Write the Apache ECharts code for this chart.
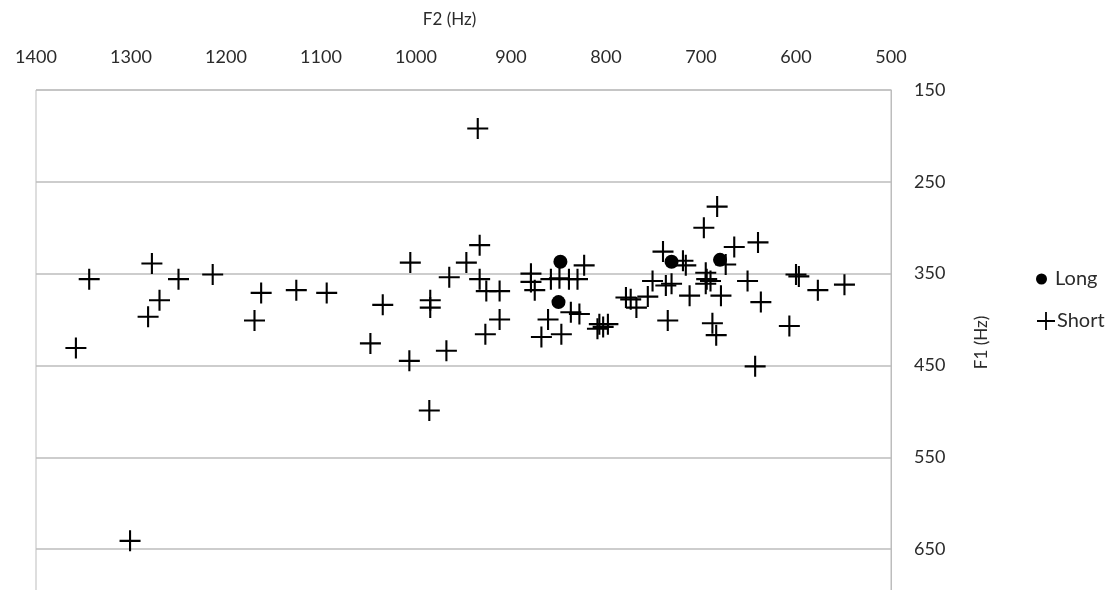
<!DOCTYPE html>
<html>
	<head>
	    <meta charset="utf-8">
	    <title>F1 / F2 scatter</title>
	</head>
	<body style="margin:0;">
	    <div id="main" style="width:1110px; height:590px;"></div>
	    <script src="https://cdn.jsdelivr.net/npm/echarts@6/dist/echarts.min.js"></script>
	    <script type="text/javascript">
	        // Short vowels: F2 (Hz) and F1 (Hz)
	        var shortF2 = [1358, 1344, 1301, 1278, 1270, 1282, 1250, 1214, 1163, 1170, 1126, 1094,
	                       1048, 1035, 1006, 1007, 986, 985, 985, 968, 965, 947, 933, 935, 933, 926,
	                       912, 912, 927,
	                       879, 879, 875, 858, 849, 839, 830, 823, 837, 828, 861, 868, 847,
	                       807, 803, 798, 809,
	                       779, 774, 768, 756, 751, 740, 737, 731, 735, 719, 716, 712, 697, 683,
	                       695, 694, 695, 690, 688, 684, 679, 674, 665, 640, 651, 637, 600, 597,
	                       577, 549, 607, 643];
	        var shortF1 = [431, 356, 641, 339, 379, 397, 356, 351, 371, 401, 368, 371,
	                       426, 384, 338, 445, 499, 379, 387, 434, 354, 338, 319, 192, 356, 369,
	                       369, 400, 416,
	                       350, 359, 368, 356, 355, 356, 356, 341, 392, 394, 400, 419, 416,
	                       405, 408, 405, 410,
	                       376, 378, 387, 375, 358, 326, 363, 361, 401, 336, 341, 374, 300, 277,
	                       349, 356, 361, 358, 404, 417, 374, 340, 321, 316, 358, 381, 351, 353,
	                       368, 362, 407, 451];
	        // Long vowels
	        var longF2 = [848, 850, 731, 680];
	        var longF1 = [337, 381, 337, 335];

	        function zip(a, b){
	            var out = [];
	            for (var i = 0; i < a.length; i++){
	                out.push([a[i], b[i]]);
	            }
	            return out;
	        }

	        var plusIcon = 'path://M0,9H20V11H0Z M9,0H11V20H9Z';
	        var font = 'Lato, "Liberation Sans", sans-serif';
	        var textColor = '#2b2b2b';
	        var lineColor = '#bdbdbd';

	        var myChart = echarts.init(document.getElementById('main'));
	        var option = {
	            backgroundColor: '#ffffff',
	            animation: false,
	            grid: {
	                left: 36,
	                top: 90,
	                width: 855,
	                height: 505,
	                outerBoundsMode: 'none',
	                show: true,
	                borderColor: lineColor,
	                borderWidth: 1
	            },
	            legend: [
	                {
	                    orient: 'vertical',
	                    left: 1031,
	                    top: 264,
	                    itemWidth: 11,
	                    itemHeight: 11,
	                    data: [{name: 'Long', icon: 'circle'}],
	                    textStyle: {fontFamily: font, fontSize: 20, color: textColor, padding: [0, 0, 0, 3]}
	                },
	                {
	                    orient: 'vertical',
	                    left: 1032,
	                    top: 306,
	                    itemWidth: 18,
	                    itemHeight: 18,
	                    data: [{name: 'Short', icon: plusIcon}],
	                    textStyle: {fontFamily: font, fontSize: 20, color: textColor, padding: [0, 0, 0, -3]}
	                }
	            ],
	            xAxis: {
	                type: 'value',
	                position: 'top',
	                inverse: true,
	                min: 500,
	                max: 1400,
	                interval: 100,
	                name: 'F2 (Hz)',
	                nameLocation: 'middle',
	                nameGap: 62,
	                nameTextStyle: {fontFamily: font, fontSize: 17, color: textColor, padding: [0, 28, 0, 0]},
	                axisLine: {show: false},
	                axisTick: {show: false},
	                splitLine: {show: false},
	                axisLabel: {
	                    margin: 24, fontFamily: font, fontSize: 18, color: textColor,
	                    formatter: function (v){ return String(v); }
	                }
	            },
	            yAxis: {
	                type: 'value',
	                position: 'right',
	                inverse: true,
	                min: 150,
	                max: 700,
	                interval: 100,
	                name: 'F1 (Hz)',
	                nameLocation: 'middle',
	                nameGap: 82,
	                nameRotate: 90,
	                nameTextStyle: {fontFamily: font, fontSize: 17, color: textColor},
	                axisLine: {show: true, lineStyle: {color: lineColor}},
	                axisTick: {show: false},
	                splitLine: {show: true, lineStyle: {color: lineColor, width: 1.5}},
	                axisLabel: {
	                    margin: 23, fontFamily: font, fontSize: 18, color: textColor,
	                    showMaxLabel: false,
	                    formatter: function (v){ return String(v); }
	                }
	            },
	            series: [
	                {
	                    name: 'Short',
	                    type: 'scatter',
	                    symbol: plusIcon,
	                    symbolSize: 21,
	                    itemStyle: {color: '#000000', opacity: 1},
	                    data: zip(shortF2, shortF1)
	                },
	                {
	                    name: 'Long',
	                    type: 'scatter',
	                    symbol: 'circle',
	                    symbolSize: 14,
	                    itemStyle: {color: '#000000', opacity: 1},
	                    data: zip(longF2, longF1)
	                }
	            ]
	        };
	        myChart.setOption(option);
	    </script>
	</body>
</html>
